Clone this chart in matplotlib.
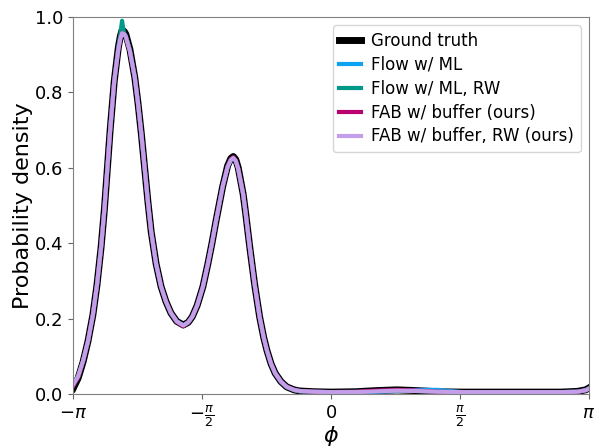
import matplotlib
matplotlib.use("Agg")
import matplotlib.pyplot as plt
import numpy as np

# dihedral angle grid (rad) and densities
phi = [-3.14, -3.08, -3.02, -2.96, -2.90, -2.85, -2.80, -2.76, -2.73, -2.69,
       -2.64, -2.59, -2.565, -2.545, -2.52, -2.50, -2.45, -2.39, -2.35, -2.31,
       -2.27, -2.23, -2.19, -2.13, -2.07, -2.01, -1.95, -1.88, -1.80, -1.74,
       -1.69, -1.63, -1.56, -1.50, -1.45, -1.40, -1.36, -1.32, -1.26, -1.22,
       -1.19, -1.16, -1.13, -1.07, -1.04, -0.99, -0.93, -0.87, -0.82, -0.78,
       -0.73, -0.68, -0.61, -0.54, -0.45, -0.38, -0.2, 0.0, 0.3, 0.55,
       0.8, 1.05, 1.3, 1.6, 2.0, 2.4, 2.8, 3.0, 3.1, 3.14]

ground_truth = [0.015, 0.042, 0.085, 0.14, 0.21, 0.29, 0.39, 0.49, 0.58, 0.70,
                0.83, 0.92, 0.95, 0.965, 0.962, 0.955, 0.915, 0.84, 0.77, 0.69,
                0.60, 0.51, 0.43, 0.345, 0.285, 0.245, 0.215, 0.193, 0.183, 0.19,
                0.205, 0.235, 0.285, 0.345, 0.40, 0.46, 0.505, 0.55, 0.605, 0.625,
                0.63, 0.622, 0.60, 0.53, 0.48, 0.39, 0.29, 0.205, 0.15, 0.115,
                0.08, 0.055, 0.033, 0.019, 0.011, 0.008, 0.006, 0.005, 0.006, 0.009,
                0.011, 0.009, 0.006, 0.005, 0.005, 0.005, 0.005, 0.007, 0.011, 0.016]

flow_ml = [0.022, 0.045, 0.087, 0.14, 0.21, 0.29, 0.39, 0.49, 0.58, 0.70,
           0.83, 0.918, 0.948, 0.96, 0.958, 0.95, 0.912, 0.84, 0.77, 0.69,
           0.60, 0.51, 0.43, 0.345, 0.285, 0.245, 0.215, 0.193, 0.182, 0.19,
           0.205, 0.235, 0.285, 0.345, 0.40, 0.46, 0.505, 0.55, 0.603, 0.622,
           0.627, 0.619, 0.597, 0.53, 0.48, 0.39, 0.29, 0.205, 0.15, 0.115,
           0.08, 0.055, 0.033, 0.019, 0.011, 0.008, 0.006, 0.005, 0.005, 0.006,
           0.008, 0.011, 0.011, 0.005, 0.005, 0.005, 0.005, 0.006, 0.010, 0.015]

flow_ml_rw = [0.025, 0.047, 0.088, 0.14, 0.21, 0.29, 0.39, 0.49, 0.58, 0.70,
              0.83, 0.92, 0.955, 0.99, 0.955, 0.95, 0.912, 0.84, 0.77, 0.69,
              0.60, 0.51, 0.43, 0.345, 0.285, 0.245, 0.215, 0.192, 0.18, 0.19,
              0.205, 0.235, 0.285, 0.345, 0.40, 0.46, 0.505, 0.55, 0.603, 0.622,
              0.627, 0.619, 0.597, 0.53, 0.48, 0.39, 0.29, 0.205, 0.15, 0.114,
              0.079, 0.054, 0.032, 0.018, 0.010, 0.007, 0.005, 0.005, 0.006, 0.008,
              0.010, 0.008, 0.006, 0.005, 0.005, 0.005, 0.005, 0.006, 0.010, 0.015]

fab_buffer = [0.022, 0.045, 0.087, 0.14, 0.21, 0.29, 0.39, 0.49, 0.58, 0.70,
              0.83, 0.915, 0.943, 0.957, 0.955, 0.948, 0.91, 0.84, 0.77, 0.69,
              0.60, 0.51, 0.43, 0.345, 0.285, 0.245, 0.215, 0.192, 0.18, 0.19,
              0.205, 0.235, 0.285, 0.345, 0.40, 0.46, 0.505, 0.55, 0.603, 0.623,
              0.628, 0.62, 0.598, 0.53, 0.48, 0.39, 0.29, 0.205, 0.15, 0.115,
              0.08, 0.055, 0.033, 0.019, 0.011, 0.008, 0.006, 0.005, 0.006, 0.009,
              0.011, 0.009, 0.006, 0.005, 0.005, 0.005, 0.005, 0.006, 0.010, 0.014]

fab_buffer_rw = [0.025, 0.047, 0.088, 0.14, 0.21, 0.29, 0.39, 0.49, 0.58, 0.70,
                 0.83, 0.915, 0.943, 0.957, 0.955, 0.948, 0.91, 0.84, 0.77, 0.69,
                 0.60, 0.51, 0.43, 0.345, 0.285, 0.245, 0.215, 0.193, 0.182, 0.19,
                 0.205, 0.235, 0.285, 0.345, 0.40, 0.46, 0.505, 0.55, 0.602, 0.621,
                 0.626, 0.618, 0.597, 0.53, 0.48, 0.39, 0.29, 0.205, 0.15, 0.115,
                 0.08, 0.055, 0.033, 0.019, 0.011, 0.008, 0.006, 0.005, 0.005, 0.007,
                 0.009, 0.008, 0.006, 0.005, 0.005, 0.005, 0.005, 0.006, 0.010, 0.014]

tick_pos = [-np.pi, -np.pi / 2, 0, np.pi / 2, np.pi]
tick_labels = [r"$-\pi$", r"$-\frac{\pi}{2}$", r"$0$", r"$\frac{\pi}{2}$", r"$\pi$"]

plt.rcParams["lines.solid_joinstyle"] = "round"

fig = plt.figure(figsize=(5.94, 4.48), dpi=100)
ax = fig.add_axes([0.123, 0.1205, 0.8686, 0.8415])

ax.plot(phi, ground_truth, color="black", lw=5, label="Ground truth")
ax.plot(phi, flow_ml, color="#0ea2f2", lw=3, label="Flow w/ ML")
ax.plot(phi, flow_ml_rw, color="#009987", lw=3, label="Flow w/ ML, RW")
ax.plot(phi, fab_buffer, color="#b8006f", lw=3, label="FAB w/ buffer (ours)")
ax.plot(phi, fab_buffer_rw, color="#c49fe9", lw=3, label="FAB w/ buffer, RW (ours)")

ax.set_xlim(-np.pi, np.pi)
ax.set_ylim(0, 1)
ax.set_xticks(tick_pos)
ax.set_xticklabels(tick_labels)
ax.tick_params(labelsize=13, color="0.4")
ax.set_xlabel(r"$\phi$", fontsize=16, labelpad=-4)
ax.set_ylabel("Probability density", fontsize=16, labelpad=1)
for s in ax.spines.values():
    s.set_color("0.5")

ax.legend(fontsize=12, loc="upper right", handlelength=1.3,
          handletextpad=0.6, labelspacing=0.35)

fig.savefig("out.png", dpi=100)
